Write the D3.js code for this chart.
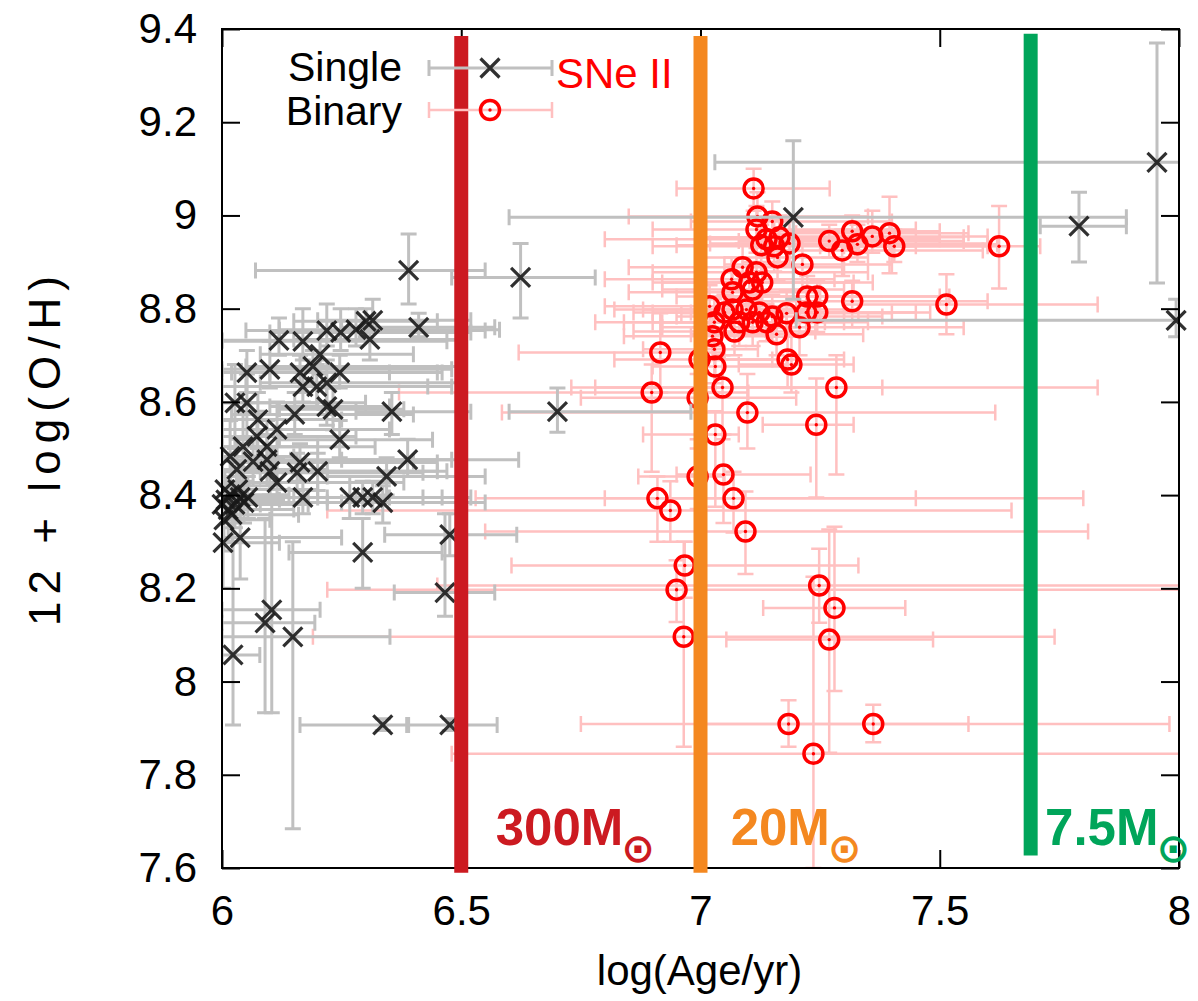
<!DOCTYPE html>
<html>
<head>
<meta charset="utf-8">
<script src="https://cdn.jsdelivr.net/npm/d3@7"></script>
<style>
  body { margin: 0; background: #fff; }
  svg { display: block; }
  text { font-family: "Liberation Sans", Arial, Helvetica, sans-serif; }
</style>
</head>
<body>
<svg id="chart" width="1198" height="1001"></svg>
<script>
// ---- Single-star population fits (log age, 12+log(O/H), with error bounds) ----
const singleAge = [6.119, 6.169, 6.219, 6.248, 6.280, 6.301, 6.315, 6.309, 6.411, 6.052,
  6.100, 6.163, 6.190, 6.205, 6.246, 6.169, 6.198, 6.219, 6.219, 6.232,
  6.027, 6.052, 6.075, 6.152, 6.355, 6.115, 6.073, 6.246, 6.044, 6.094,
  6.017, 6.065, 6.094, 6.388, 6.163, 6.031, 6.100, 6.157, 6.200, 6.344,
  6.115, 6.006, 6.017, 6.008, 6.027, 6.013, 6.038, 6.021, 6.004, 6.033,
  6.046, 6.000, 6.054, 6.169, 6.267, 6.294, 6.315, 6.336, 6.038, 6.002,
  6.294, 6.476, 6.104, 6.090, 6.148, 6.023, 6.466, 6.336, 6.476, 6.390,
  6.624, 6.701, 7.194, 7.791, 7.954, 7.994];
const singleOH = [8.732, 8.730, 8.753, 8.749, 8.755, 8.773, 8.775, 8.734, 8.760, 8.663,
  8.670, 8.663, 8.676, 8.702, 8.663, 8.633, 8.633, 8.641, 8.590, 8.584,
  8.598, 8.598, 8.562, 8.573, 8.579, 8.541, 8.526, 8.519, 8.504, 8.504,
  8.483, 8.472, 8.476, 8.476, 8.470, 8.455, 8.451, 8.448, 8.451, 8.440,
  8.427, 8.412, 8.401, 8.390, 8.380, 8.369, 8.395, 8.358, 8.347, 8.412,
  8.384, 8.380, 8.395, 8.395, 8.395, 8.395, 8.395, 8.384, 8.309, 8.298,
  8.277, 8.315, 8.154, 8.126, 8.096, 8.057, 8.191, 7.907, 7.907, 8.882,
  8.867, 8.579, 8.996, 8.977, 9.114, 8.775];
const singleAgeLow = [6.00, 6.00, 6.05, 6.10, 6.12, 6.15, 6.20, 6.15, 6.25, 6.00,
  6.00, 6.02, 6.05, 6.08, 6.10, 6.00, 6.05, 6.08, 6.10, 6.12,
  6.00, 6.00, 6.00, 6.02, 6.28, 6.00, 6.00, 6.12, 6.00, 6.00,
  6.00, 6.00, 6.00, 6.25, 6.02, 6.00, 6.00, 6.03, 6.08, 6.22,
  6.00, 6.00, 6.00, 6.00, 6.00, 6.00, 6.00, 6.00, 6.00, 6.00,
  6.00, 6.00, 6.00, 6.05, 6.15, 6.18, 6.20, 6.22, 6.00, 6.00,
  6.14, 6.34, 6.00, 6.00, 6.00, 6.00, 6.36, 6.163, 6.39, 6.07,
  6.48, 6.60, 6.60, 7.71, 7.03, 7.20];
const singleAgeHigh = [6.50, 6.47, 6.55, 6.52, 6.58, 6.45, 6.52, 6.50, 6.57, 6.35,
  6.48, 6.45, 6.50, 6.40, 6.46, 6.43, 6.48, 6.50, 6.35, 6.38,
  6.20, 6.30, 6.25, 6.40, 6.52, 6.35, 6.28, 6.44, 6.20, 6.32,
  6.15, 6.40, 6.48, 6.62, 6.45, 6.22, 6.45, 6.42, 6.47, 6.55,
  6.38, 6.10, 6.14, 6.12, 6.18, 6.15, 6.22, 6.16, 6.10, 6.20,
  6.25, 6.08, 6.28, 6.35, 6.42, 6.46, 6.52, 6.55, 6.25, 6.12,
  6.46, 6.616, 6.205, 6.194, 6.351, 6.079, 6.57, 6.386, 6.575, 6.55,
  6.78, 6.98, 7.89, 7.89, 8.10, 8.10];
const singleOHLow = [8.70, 8.69, 8.72, 8.71, 8.72, 8.74, 8.75, 8.69, 8.74, 8.62,
  8.63, 8.62, 8.64, 8.66, 8.63, 8.60, 8.59, 8.60, 8.55, 8.54,
  8.50, 8.52, 8.50, 8.53, 8.53, 8.48, 8.46, 8.48, 8.42, 8.45,
  8.38, 8.42, 8.42, 8.44, 8.43, 8.38, 8.40, 8.41, 8.41, 8.40,
  8.39, 8.37, 8.36, 8.34, 8.33, 8.30, 8.35, 8.30, 8.28, 8.37,
  8.34, 8.33, 8.35, 8.36, 8.35, 8.36, 8.36, 8.34, 8.22, 8.20,
  8.20, 8.27, 7.933, 7.933, 7.684, 7.907, 8.14, 7.895, 7.895, 8.81,
  8.78, 8.535, 8.82, 8.90, 8.855, 8.74];
const singleOHHigh = [8.78, 8.80, 8.81, 8.80, 8.80, 8.80, 8.82, 8.76, 8.79, 8.71,
  8.73, 8.70, 8.71, 8.75, 8.70, 8.67, 8.68, 8.69, 8.63, 8.63,
  8.68, 8.66, 8.62, 8.62, 8.62, 8.60, 8.58, 8.56, 8.58, 8.56,
  8.56, 8.52, 8.53, 8.52, 8.51, 8.52, 8.50, 8.49, 8.49, 8.48,
  8.47, 8.45, 8.44, 8.44, 8.43, 8.42, 8.44, 8.41, 8.40, 8.46,
  8.43, 8.43, 8.44, 8.43, 8.44, 8.43, 8.43, 8.42, 8.40, 8.40,
  8.35, 8.36, 8.38, 8.35, 8.30, 8.40, 8.36, 7.92, 7.92, 8.96,
  8.94, 8.63, 9.16, 9.05, 9.37, 8.82];

// ---- Binary population fits ----
const binaryAge = [7.111, 7.119, 7.150, 7.117, 7.138, 7.165, 7.186, 7.154, 7.127, 7.161,
  7.213, 7.269, 7.296, 7.317, 7.328, 7.359, 7.395, 7.405, 7.624, 7.514,
  7.317, 7.223, 7.244, 7.221, 7.244, 7.207, 7.180, 7.088, 7.117, 7.065,
  7.102, 7.129, 7.067, 7.109, 7.067, 7.096, 7.123, 7.150, 7.081, 7.109,
  7.138, 7.071, 7.159, 7.019, 7.029, 7.025, 7.029, 7.050, 7.182, 7.190,
  6.916, 6.898, 6.998, 6.994, 7.031, 7.046, 7.098, 7.031, 7.242, 7.284,
  6.994, 7.048, 6.910, 6.937, 7.069, 7.094, 6.967, 6.950, 7.248, 7.280,
  6.965, 7.269, 7.184, 7.361, 7.236];
const binaryOH = [9.058, 8.998, 8.987, 8.970, 8.949, 8.953, 8.940, 8.934, 8.936, 8.910,
  8.895, 8.945, 8.925, 8.966, 8.938, 8.955, 8.962, 8.934, 8.934, 8.809,
  8.816, 8.826, 8.826, 8.792, 8.792, 8.760, 8.790, 8.889, 8.878, 8.863,
  8.856, 8.856, 8.835, 8.841, 8.798, 8.798, 8.792, 8.783, 8.771, 8.771,
  8.771, 8.751, 8.745, 8.805, 8.771, 8.741, 8.713, 8.792, 8.691, 8.680,
  8.706, 8.620, 8.691, 8.609, 8.676, 8.631, 8.577, 8.530, 8.551, 8.631,
  8.440, 8.444, 8.393, 8.367, 8.393, 8.322, 8.249, 8.197, 8.206, 8.158,
  8.096, 8.090, 7.909, 7.909, 7.845];
const binaryAgeLow = [6.95, 6.85, 6.98, 6.90, 6.80, 7.00, 7.02, 6.90, 6.95, 7.00,
  7.05, 7.08, 7.15, 7.12, 7.14, 7.15, 7.20, 7.25, 7.30, 7.30,
  7.10, 6.95, 7.00, 6.98, 7.02, 6.92, 6.96, 6.85, 6.90, 6.80,
  6.90, 6.92, 6.85, 6.92, 6.82, 6.88, 6.90, 6.95, 6.84, 6.90,
  6.92, 6.86, 6.98, 6.80, 6.78, 6.84, 6.88, 6.86, 7.05, 7.08,
  6.62, 6.37, 6.82, 6.75, 6.90, 6.73, 6.585, 6.88, 7.13, 6.78,
  6.87, 6.95, 6.53, 6.22, 6.80, 6.55, 6.605, 6.22, 6.45, 7.131,
  6.19, 7.054, 6.75, 7.00, 6.48];
const binaryAgeHigh = [7.27, 7.35, 7.40, 7.45, 7.50, 7.55, 7.60, 7.45, 7.40, 7.35,
  7.40, 7.55, 7.59, 7.50, 7.62, 7.60, 7.56, 7.60, 7.71, 7.83,
  7.60, 7.50, 7.52, 7.45, 7.48, 7.55, 7.40, 7.30, 7.35, 7.28,
  7.32, 7.36, 7.25, 7.30, 7.22, 7.30, 7.33, 7.38, 7.26, 7.30,
  7.35, 7.24, 7.34, 7.20, 7.18, 7.15, 7.12, 7.25, 7.30, 7.32,
  7.05, 7.10, 7.15, 7.20, 7.18, 7.38, 7.616, 7.08, 7.32, 7.83,
  7.05, 7.23, 7.80, 7.65, 7.45, 7.81, 7.33, 8.10, 8.10, 7.428,
  7.74, 7.486, 7.56, 7.98, 8.10];
const binaryOHLow = [9.01, 8.95, 8.94, 8.92, 8.91, 8.90, 8.89, 8.88, 8.88, 8.86,
  8.84, 8.91, 8.87, 8.93, 8.90, 8.92, 8.876, 8.90, 8.843, 8.745,
  8.76, 8.78, 8.79, 8.75, 8.75, 8.70, 8.74, 8.84, 8.83, 8.82,
  8.81, 8.81, 8.79, 8.80, 8.75, 8.75, 8.75, 8.74, 8.72, 8.72,
  8.73, 8.70, 8.70, 8.76, 8.72, 8.69, 8.64, 8.75, 8.63, 8.62,
  8.62, 8.45, 8.62, 8.50, 8.62, 8.52, 8.50, 8.375, 8.395, 8.444,
  8.37, 8.34, 8.30, 8.30, 8.32, 8.231, 8.18, 8.128, 8.126, 7.98,
  7.86, 7.847, 7.86, 7.87, 7.60];
const binaryOHHigh = [9.10, 9.05, 9.03, 9.02, 8.99, 9.00, 8.99, 8.99, 8.98, 8.96,
  8.95, 8.98, 8.97, 9.00, 8.98, 9.01, 9.04, 8.97, 9.02, 8.874,
  8.86, 8.87, 8.86, 8.84, 8.84, 8.80, 8.84, 8.94, 8.93, 8.91,
  8.90, 8.90, 8.88, 8.88, 8.85, 8.84, 8.84, 8.83, 8.82, 8.82,
  8.81, 8.80, 8.79, 8.85, 8.82, 8.79, 8.77, 8.83, 8.76, 8.74,
  8.79, 8.68, 8.76, 8.66, 8.72, 8.70, 8.66, 8.58, 8.65, 8.70,
  8.52, 8.53, 8.44, 8.43, 8.45, 8.408, 8.30, 8.26, 8.285, 8.332,
  8.30, 8.326, 7.96, 7.95, 8.225];

// ---- Stellar lifetime markers ----
const lifetimeAges = [6.5, 7.0, 7.69];
const lifetimeMasses = ["300M", "20M", "7.5M"];
const lifetimeColors = ["#cc1a21", "#f48820", "#00a55a"];

// ---- Axis ticks ----
const xTicks = [6, 6.5, 7, 7.5, 8];
const yTicks = [7.6, 7.8, 8.0, 8.2, 8.4, 8.6, 8.8, 9.0, 9.2, 9.4];

const svg = d3.select("#chart");
const plot = { left: 222, right: 1179, top: 29, bottom: 868 };
const x = d3.scaleLinear().domain([6, 8]).range([plot.left, plot.right]);
const y = d3.scaleLinear().domain([7.6, 9.4]).range([plot.bottom, plot.top]);
const fmt = d => String(+d.toFixed(1));

svg.append("rect").attr("width", 1198).attr("height", 1001).attr("fill", "#fff");

svg.append("defs").append("clipPath").attr("id", "plotClip")
  .append("rect")
  .attr("x", plot.left).attr("y", plot.top)
  .attr("width", plot.right - plot.left).attr("height", plot.bottom - plot.top);

const CAP = 8;

function errorBars(g, age, oh, aLo, aHi, oLo, oHi, color, width) {
  const grp = g.append("g").attr("clip-path", "url(#plotClip)")
    .attr("stroke", color).attr("stroke-width", width).attr("fill", "none");
  age.forEach((a, i) => {
    const px = x(a), py = y(oh[i]);
    const x0 = x(aLo[i]), x1 = x(aHi[i]), y0 = y(oLo[i]), y1 = y(oHi[i]);
    const p = d3.path();
    p.moveTo(x0, py); p.lineTo(x1, py);
    p.moveTo(x0, py - CAP); p.lineTo(x0, py + CAP);
    p.moveTo(x1, py - CAP); p.lineTo(x1, py + CAP);
    p.moveTo(px, y0); p.lineTo(px, y1);
    p.moveTo(px - CAP, y0); p.lineTo(px + CAP, y0);
    p.moveTo(px - CAP, y1); p.lineTo(px + CAP, y1);
    grp.append("path").attr("d", p.toString());
  });
}

function crossMark(g, cx, cy) {
  g.append("path")
    .attr("d", `M${cx - 9.5},${cy - 9.5}L${cx + 9.5},${cy + 9.5}M${cx - 9.5},${cy + 9.5}L${cx + 9.5},${cy - 9.5}`)
    .attr("stroke", "#1a1a1a").attr("stroke-width", 3.2).attr("stroke-opacity", 0.9)
    .attr("fill", "none");
}

function sunMark(g, cx, cy) {
  g.append("circle").attr("cx", cx).attr("cy", cy).attr("r", 9.5)
    .attr("fill", "none").attr("stroke", "#ff0000").attr("stroke-width", 3.5);
  g.append("circle").attr("cx", cx).attr("cy", cy).attr("r", 1.7).attr("fill", "#ff0000");
}

// Binary population: pink error bars + red circled-dot markers
const binG = svg.append("g");
errorBars(binG, binaryAge, binaryOH, binaryAgeLow, binaryAgeHigh, binaryOHLow, binaryOHHigh, "#ffc0c0", 2.5);
const binPts = binG.append("g");
binaryAge.forEach((a, i) => sunMark(binPts, x(a), y(binaryOH[i])));

// Single population: grey error bars + black crosses
const sinG = svg.append("g");
errorBars(sinG, singleAge, singleOH, singleAgeLow, singleAgeHigh, singleOHLow, singleOHHigh, "#c0c0c0", 3);
const sinPts = sinG.append("g");
singleAge.forEach((a, i) => crossMark(sinPts, x(a), y(singleOH[i])));

// Axes with inward ticks on all four sides
const axisStyle = g => {
  g.select(".domain").remove();
  g.selectAll(".tick line").attr("stroke", "#000").attr("stroke-width", 2);
  g.selectAll("text").attr("font-size", 42).attr("fill", "#000")
    .attr("font-family", "\"Liberation Sans\", Arial, Helvetica, sans-serif");
};
svg.append("g").attr("transform", `translate(${plot.left},0)`)
  .call(d3.axisLeft(y).tickValues(yTicks).tickFormat(fmt).tickSize(-18).tickPadding(25))
  .call(axisStyle);
svg.append("g").attr("transform", `translate(${plot.right},0)`)
  .call(d3.axisRight(y).tickValues(yTicks).tickFormat("").tickSize(-18))
  .call(axisStyle);
svg.append("g").attr("transform", `translate(0,${plot.bottom})`)
  .call(d3.axisBottom(x).tickValues(xTicks).tickFormat(fmt).tickSize(-18).tickPadding(27))
  .call(axisStyle);
svg.append("g").attr("transform", `translate(0,${plot.top})`)
  .call(d3.axisTop(x).tickValues(xTicks).tickFormat("").tickSize(-18))
  .call(axisStyle);

svg.append("rect")
  .attr("x", plot.left).attr("y", plot.top)
  .attr("width", plot.right - plot.left).attr("height", plot.bottom - plot.top)
  .attr("fill", "none").attr("stroke", "#000").attr("stroke-width", 2);

// Lifetime lines for stars of given initial mass
const lineTops = [9.385, 9.385, 9.39];
const lineBottoms = [7.59, 7.59, 7.627];
lifetimeAges.forEach((a, i) => {
  svg.append("line")
    .attr("x1", x(a)).attr("x2", x(a))
    .attr("y1", y(lineTops[i])).attr("y2", y(lineBottoms[i]))
    .attr("stroke", lifetimeColors[i]).attr("stroke-width", 14);
});

const labelAges = [6.572, 7.063, 7.72];
lifetimeAges.forEach((a, i) => {
  const t = svg.append("text")
    .attr("x", x(labelAges[i])).attr("y", 845)
    .attr("fill", lifetimeColors[i]).attr("font-weight", "bold").attr("font-size", 51);
  t.append("tspan").text(lifetimeMasses[i]);
  t.append("tspan").text("\u2299").attr("font-family", "\"DejaVu Sans\", sans-serif")
    .attr("font-weight", "bold")
    .attr("font-size", 40).attr("dx", -2).attr("dy", 17);
});

// Legend
const legend = svg.append("g");
legend.append("text").attr("x", 402).attr("y", 81).attr("text-anchor", "end")
  .attr("font-size", 41).text("Single");
legend.append("text").attr("x", 402).attr("y", 125).attr("text-anchor", "end")
  .attr("font-size", 41).text("Binary");
function legendBar(cy, color, w) {
  const p = d3.path();
  p.moveTo(429, cy); p.lineTo(552, cy);
  p.moveTo(429, cy - CAP); p.lineTo(429, cy + CAP);
  p.moveTo(552, cy - CAP); p.lineTo(552, cy + CAP);
  legend.append("path").attr("d", p.toString()).attr("stroke", color)
    .attr("stroke-width", w).attr("fill", "none");
}
legendBar(68, "#c0c0c0", 3);
crossMark(legend, 490, 68);
legendBar(110, "#ffc0c0", 2.5);
sunMark(legend, 490, 110);
legend.append("text").attr("x", 556).attr("y", 88).attr("fill", "#ff0000")
  .attr("font-size", 42).text("SNe II");

// Axis titles
svg.append("text").attr("x", (plot.left + plot.right) / 2 - 1).attr("y", 985)
  .attr("text-anchor", "middle").attr("font-size", 42).text("log(Age/yr)");
svg.append("text").attr("transform", "translate(60,451) rotate(-90)")
  .attr("text-anchor", "middle").attr("font-size", 44)
  .attr("textLength", 350).attr("lengthAdjust", "spacing")
  .text("12 + log(O/H)");
</script>
</body>
</html>
